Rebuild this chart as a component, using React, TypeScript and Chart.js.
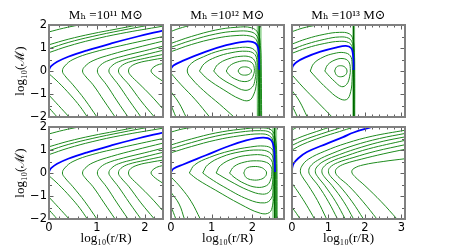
import React, { useEffect, useRef } from "react";
import { Chart, registerables } from "chart.js";

Chart.register(...registerables);

type Pt = [number, number];

// ---------- axis data ----------
const xMaxByCol = [2.38, 2.78, 3.1];
const xTickValuesByCol = [[0, 1, 2], [0, 1, 2], [0, 1, 2, 3]];
const xTickLabelsByCol = [["0", "1", "2"], ["0", "1", "2"], ["0", "1", "2", "3"]];
const yTickValues = [-2, -1, 0, 1, 2];
const yTickLabels = ["−2", "−1", "0", "1", "2"];
const panelTitles = ["Mₕ =10¹¹ M⊙", "Mₕ =10¹² M⊙", "Mₕ =10¹³ M⊙"];
const xAxisTitle = "log₁₀(r/R)";
const yAxisTitle = "log₁₀(ℳ)";

// ---------- panel 1 : 10^11, top ----------
const p1Blue: Pt[] = [[0, 0], [0.01, 0.1], [0.05, 0.22], [0.17, 0.4], [0.4, 0.62], [0.8, 0.9], [1.3, 1.2], [1.85, 1.5], [2.38, 1.76]];
const p1Green: Pt[][] = [
  [[0, 1.7], [0.3, 1.86], [0.62, 2.0]],
  [[0, 1.14], [0.4, 1.38], [0.9, 1.62], [1.4, 1.82], [1.85, 2.0]],
  [[0, 0.97], [0.4, 1.24], [0.9, 1.5], [1.5, 1.76], [2.1, 2.0]],
  [[0, 0.8], [0.4, 1.08], [0.9, 1.36], [1.5, 1.63], [2.38, 1.95]],
  [[1.0, -2], [0.75, -1.25], [0.5, -0.6], [0.33, -0.2], [0.28, 0], [0.33, 0.22], [0.5, 0.5], [0.9, 0.8], [1.5, 1.1], [2.38, 1.5]],
  [[1.38, -2], [1.15, -1.3], [0.92, -0.6], [0.75, -0.2], [0.7, 0], [0.75, 0.2], [0.92, 0.45], [1.3, 0.72], [1.8, 1.0], [2.38, 1.3]],
  [[1.65, -2], [1.42, -1.3], [1.2, -0.6], [1.05, -0.2], [1.01, 0], [1.05, 0.2], [1.2, 0.42], [1.55, 0.65], [2.0, 0.88], [2.38, 1.08]],
  [[1.92, -2], [1.68, -1.3], [1.45, -0.6], [1.3, -0.2], [1.25, 0], [1.3, 0.2], [1.45, 0.4], [1.8, 0.6], [2.38, 0.9]],
  [[2.2, -2], [1.92, -1.3], [1.67, -0.6], [1.5, -0.2], [1.45, 0], [1.5, 0.2], [1.66, 0.38], [2.0, 0.55], [2.38, 0.72]],
  [[2.38, -1.65], [2.12, -1.05], [1.88, -0.55], [1.7, -0.18], [1.66, 0], [1.7, 0.18], [1.86, 0.35], [2.15, 0.48], [2.38, 0.56]],
  [[2.38, -0.45], [2.22, -0.22], [2.15, -0.08], [2.13, 0], [2.15, 0.1], [2.24, 0.24], [2.38, 0.33]],
  [[0, -0.12], [0.2, -0.5], [0.45, -1.05], [0.65, -1.55], [0.8, -2]],
  [[0, -1.05], [0.2, -1.5], [0.42, -2]],
  [[0, -1.6], [0.17, -2]],
];

// ---------- panel 2 : 10^12, top ----------
const p2Sonic = 2.17;
const p2Blue: Pt[] = [[0, 0.1], [0.06, 0.24], [0.3, 0.45], [0.86, 0.84], [1.36, 1.12], [1.77, 1.27], [2.02, 1.26], [2.12, 1.12], [2.16, 0.8], [2.17, 0.05]];
const p2Green: Pt[][] = [
  [[0, 1.72], [0.2, 1.85], [0.5, 2.0]],
  [[0, 1.2], [0.5, 1.5], [1.1, 1.78], [1.6, 1.9], [1.98, 1.88], [2.14, 1.65], [2.2, 1.1], [2.22, 0], [2.23, -2]],
  [[0, 1.03], [0.5, 1.33], [1.1, 1.61], [1.6, 1.73], [1.97, 1.7], [2.12, 1.5], [2.18, 1.0], [2.2, 0], [2.21, -2]],
  [[0, 0.84], [0.5, 1.15], [1.1, 1.42], [1.6, 1.54], [1.95, 1.52], [2.1, 1.35], [2.16, 0.9], [2.18, 0], [2.19, -2]],
  [[1.55, -2], [1.2, -1.45], [0.8, -0.85], [0.52, -0.35], [0.4, 0], [0.5, 0.33], [0.8, 0.62], [1.2, 0.88], [1.6, 1.0], [1.92, 1.02], [2.08, 0.86], [2.14, 0.5], [2.15, -0.5], [2.14, -2]],
  [[0.7, 0], [0.82, 0.32], [1.1, 0.6], [1.5, 0.8], [1.85, 0.86], [2.04, 0.76], [2.11, 0.5], [2.12, 0], [2.1, -0.55], [2.04, -1.0], [1.92, -1.28], [1.7, -1.22], [1.3, -0.82], [0.9, -0.35], [0.7, 0]],
  [[1.05, 0], [1.15, 0.28], [1.4, 0.52], [1.72, 0.64], [1.96, 0.6], [2.07, 0.4], [2.09, 0.05], [2.07, -0.35], [2.0, -0.7], [1.82, -0.84], [1.52, -0.62], [1.2, -0.28], [1.05, 0]],
  [[1.36, 0], [1.44, 0.22], [1.63, 0.39], [1.86, 0.44], [2.0, 0.34], [2.05, 0.1], [2.03, -0.17], [1.96, -0.38], [1.8, -0.46], [1.57, -0.34], [1.42, -0.15], [1.36, 0]],
  [[1.65, 0], [1.7, 0.13], [1.81, 0.18], [1.93, 0.13], [1.98, 0], [1.93, -0.13], [1.81, -0.18], [1.7, -0.13], [1.65, 0]],
  [[0, -0.1], [0.25, -0.6], [0.6, -1.25], [0.95, -2]],
  [[0, -0.9], [0.2, -1.4], [0.37, -2]],
  [[0, -1.48], [0.12, -2]],
];

// ---------- panel 3 : 10^13, top ----------
const p3Sonic = 1.69;
const p3Blue: Pt[] = [[0, 0.04], [0.02, 0.2], [0.12, 0.38], [0.35, 0.58], [0.78, 0.84], [1.23, 1.03], [1.48, 1.09], [1.62, 1.0], [1.67, 0.75], [1.69, 0.3], [1.69, 0.04]];
const p3Green: Pt[][] = [
  [[0, 1.71], [0.3, 1.87], [0.68, 2.0]],
  [[0, 1.17], [0.4, 1.4], [0.9, 1.6], [1.3, 1.68], [1.57, 1.62], [1.67, 1.38], [1.71, 0.8], [1.72, 0], [1.72, -2]],
  [[0, 0.94], [0.4, 1.17], [0.9, 1.38], [1.3, 1.48], [1.56, 1.42], [1.66, 1.2], [1.7, 0.7], [1.71, 0], [1.71, -2]],
  [[0, 0.77], [0.4, 1.0], [0.9, 1.2], [1.3, 1.29], [1.55, 1.24], [1.65, 1.05], [1.69, 0.6], [1.7, 0], [1.7, -2]],
  [[0.5, 0], [0.6, 0.33], [0.85, 0.6], [1.15, 0.76], [1.42, 0.8], [1.6, 0.66], [1.65, 0.3], [1.65, -0.3], [1.61, -0.9], [1.5, -1.24], [1.28, -1.18], [0.95, -0.75], [0.65, -0.27], [0.5, 0]],
  [[0.9, 0], [0.98, 0.27], [1.18, 0.48], [1.4, 0.54], [1.55, 0.42], [1.6, 0.1], [1.58, -0.25], [1.5, -0.58], [1.36, -0.68], [1.16, -0.44], [0.98, -0.15], [0.9, 0]],
  [[1.17, 0], [1.22, 0.17], [1.33, 0.23], [1.45, 0.17], [1.51, 0], [1.46, -0.18], [1.33, -0.25], [1.22, -0.18], [1.17, 0]],
  [[0, -0.17], [0.3, -0.7], [0.7, -1.35], [1.1, -2]],
  [[0, -0.85], [0.2, -1.3], [0.42, -2]],
  [[0, -1.5], [0.15, -2]],
];

// ---------- panel 4 : 10^11, bottom ----------
const p4Blue: Pt[] = p1Blue;
const p4Green: Pt[][] = p1Green;

// ---------- panel 5 : 10^12, bottom ----------
const p5Sonic = 2.55;
const p5Blue: Pt[] = [[0, 0.04], [0.06, 0.18], [0.3, 0.37], [0.86, 0.77], [1.36, 1.13], [1.85, 1.42], [2.26, 1.54], [2.45, 1.45], [2.53, 1.1], [2.55, 0.5], [2.56, 0.04]];
const p5Green: Pt[][] = [
  [[0, 1.78], [0.3, 1.92], [0.62, 2.0]],
  [[0, 1.22], [0.5, 1.48], [1.1, 1.74], [1.7, 1.9], [2.2, 1.96], [2.46, 1.88], [2.56, 1.55], [2.6, 0.8], [2.61, -2]],
  [[0, 1.06], [0.5, 1.32], [1.1, 1.6], [1.7, 1.78], [2.2, 1.84], [2.44, 1.76], [2.54, 1.45], [2.58, 0.8], [2.59, -2]],
  [[0, 0.88], [0.5, 1.15], [1.1, 1.43], [1.7, 1.62], [2.2, 1.7], [2.42, 1.62], [2.52, 1.35], [2.56, 0.8], [2.57, 0], [2.58, -2]],
  [[0.45, 0], [0.58, 0.35], [0.95, 0.68], [1.45, 0.96], [1.95, 1.13], [2.3, 1.17], [2.48, 1.05], [2.54, 0.7], [2.55, 0], [2.54, -0.8], [2.5, -1.4], [2.42, -1.72], [2.2, -1.75], [1.7, -1.35], [1.1, -0.75], [0.65, -0.28], [0.45, 0]],
  [[0.78, 0], [0.9, 0.35], [1.25, 0.7], [1.7, 0.92], [2.15, 1.0], [2.42, 0.9], [2.52, 0.6], [2.53, 0], [2.52, -0.6], [2.47, -1.1], [2.3, -1.3], [1.9, -1.15], [1.3, -0.6], [0.95, -0.22], [0.78, 0]],
  [[1.11, 0], [1.22, 0.33], [1.55, 0.64], [1.95, 0.78], [2.3, 0.76], [2.47, 0.56], [2.51, 0.1], [2.5, -0.4], [2.43, -0.8], [2.25, -0.92], [1.9, -0.75], [1.45, -0.35], [1.11, 0]],
  [[1.44, 0], [1.55, 0.28], [1.8, 0.47], [2.1, 0.53], [2.35, 0.46], [2.46, 0.28], [2.48, 0], [2.45, -0.3], [2.35, -0.55], [2.1, -0.62], [1.8, -0.45], [1.55, -0.18], [1.44, 0]],
  [[1.79, 0], [1.85, 0.2], [2.02, 0.28], [2.22, 0.24], [2.33, 0.1], [2.35, 0], [2.32, -0.15], [2.2, -0.28], [2.0, -0.3], [1.85, -0.2], [1.79, 0]],
  [[0, -0.17], [0.25, -0.65], [0.5, -1.25], [0.72, -2]],
  [[0, -0.84], [0.2, -1.35], [0.33, -2]],
  [[0, -1.45], [0.12, -2]],
];

// ---------- panel 6 : 10^13, bottom ----------
const p6Blue: Pt[] = [[0, 0.12], [0.01, 0.25], [0.05, 0.42], [0.16, 0.62], [0.41, 0.91], [0.96, 1.28], [1.4, 1.56], [1.69, 1.76], [2.19, 2.0]];
const p6Green: Pt[][] = [
  [[0, 1.87], [0.15, 2.0]],
  [[0, 1.4], [0.3, 1.6], [0.8, 1.87], [1.05, 2.0]],
  [[0, 1.2], [0.3, 1.42], [0.8, 1.7], [1.3, 1.95], [1.4, 2.0]],
  [[0, 1.0], [0.3, 1.25], [0.8, 1.55], [1.3, 1.8], [1.7, 2.0]],
  [[0.95, -2], [0.7, -1.2], [0.45, -0.55], [0.28, -0.15], [0.23, 0.05], [0.27, 0.3], [0.45, 0.6], [0.9, 0.95], [1.5, 1.3], [2.2, 1.6], [3.1, 1.86]],
  [[1.25, -2], [1.0, -1.25], [0.72, -0.55], [0.52, -0.15], [0.46, 0.05], [0.5, 0.28], [0.7, 0.55], [1.1, 0.85], [1.7, 1.2], [2.4, 1.5], [3.1, 1.72]],
  [[1.46, -2], [1.2, -1.25], [0.9, -0.55], [0.7, -0.15], [0.64, 0.05], [0.68, 0.26], [0.88, 0.52], [1.3, 0.8], [1.9, 1.12], [2.5, 1.38], [3.1, 1.57]],
  [[1.69, -2], [1.42, -1.25], [1.1, -0.55], [0.88, -0.15], [0.82, 0.05], [0.86, 0.25], [1.05, 0.48], [1.5, 0.75], [2.1, 1.05], [3.1, 1.42]],
  [[1.96, -2], [1.65, -1.25], [1.3, -0.55], [1.06, -0.15], [1.0, 0.05], [1.04, 0.24], [1.25, 0.45], [1.7, 0.68], [2.3, 0.95], [3.1, 1.23]],
  [[2.33, -2], [1.95, -1.25], [1.55, -0.55], [1.26, -0.15], [1.19, 0.05], [1.24, 0.22], [1.45, 0.4], [1.9, 0.6], [2.5, 0.83], [3.1, 1.03]],
  [[2.88, -2], [2.45, -1.25], [2.0, -0.55], [1.72, -0.15], [1.64, 0.05], [1.7, 0.2], [1.95, 0.35], [2.5, 0.5], [3.1, 0.62]],
  [[0, -0.45], [0.2, -0.9], [0.4, -1.4], [0.62, -2]],
  [[0, -1.5], [0.12, -1.75], [0.22, -2]],
];

type PanelDef = { row: number; col: number; blue: Pt[]; green: Pt[][]; sonic: number | null };
const panels: PanelDef[] = [
  { row: 0, col: 0, blue: p1Blue, green: p1Green, sonic: null },
  { row: 0, col: 1, blue: p2Blue, green: p2Green, sonic: p2Sonic },
  { row: 0, col: 2, blue: p3Blue, green: p3Green, sonic: p3Sonic },
  { row: 1, col: 0, blue: p4Blue, green: p4Green, sonic: null },
  { row: 1, col: 1, blue: p5Blue, green: p5Green, sonic: p5Sonic },
  { row: 1, col: 2, blue: p6Blue, green: p6Green, sonic: null },
];

// ---------- layout & style ----------
const COL_L = [49, 171, 292];
const COL_R = [163, 284, 405];
const ROW_T = [25, 127];
const ROW_B = [117, 219];
const PAD = 12;
const GREEN = "#1e8c1e";
const BLUE = "#0000ff";
const SONIC_DARK = "#006400";
const SONIC_BAND = "rgba(120,200,120,0.75)";
const FRAME = "#808080";
const TICK = "#606060";
const SERIF = "'Liberation Serif', 'DejaVu Serif', serif";
const SANS = "'DejaVu Sans', sans-serif";

const framePlugin = {
  id: "frame",
  afterDatasetsDraw(chart: any) {
    const { ctx, chartArea, scales } = chart;
    const { left, right, top, bottom } = chartArea;
    const xs = scales.x;
    const ys = scales.y;
    ctx.save();
    ctx.strokeStyle = TICK;
    ctx.lineWidth = 1;
    ctx.beginPath();
    const nx = Math.floor(xs.max / 0.2 + 1e-6);
    for (let k = 0; k <= nx; k++) {
      const len = k % 5 === 0 ? 4.5 : 2.5;
      const px = Math.round(xs.getPixelForValue(k * 0.2)) + 0.5;
      ctx.moveTo(px, bottom);
      ctx.lineTo(px, bottom - len);
      ctx.moveTo(px, top);
      ctx.lineTo(px, top + len);
    }
    for (let k = 0; k <= 8; k++) {
      const len = k % 2 === 0 ? 4.5 : 3;
      const py = Math.round(ys.getPixelForValue(-2 + k * 0.5)) + 0.5;
      ctx.moveTo(left, py);
      ctx.lineTo(left + len, py);
      ctx.moveTo(right, py);
      ctx.lineTo(right - len, py);
    }
    ctx.stroke();
    ctx.lineWidth = 2;
    ctx.strokeStyle = FRAME;
    ctx.strokeRect(left, top, right - left, bottom - top);
    ctx.restore();
  },
};

function lineDs(pts: Pt[], color: string, width: number, order: number, tension = 0.4) {
  return {
    data: pts.map(([x, y]) => ({ x, y })),
    showLine: true,
    borderColor: color,
    backgroundColor: color,
    borderWidth: width,
    pointRadius: 0,
    tension,
    fill: false,
    order,
  };
}

function Panel({ p }: { p: PanelDef }) {
  const ref = useRef<HTMLCanvasElement | null>(null);
  const { row, col } = p;
  const L = COL_L[col];
  const R = COL_R[col];
  const T = ROW_T[row];
  const B = ROW_B[row];
  const left = col === 0 ? 0 : L - PAD;
  const top = row === 0 ? 0 : T - PAD;
  const right = R + PAD;
  const bottom = row === 1 ? 250 : B + PAD;
  const w = right - left;
  const h = bottom - top;
  const showX = row === 1;
  const showY = col === 0;

  useEffect(() => {
    const datasets: any[] = [];
    if (p.sonic != null) {
      const s: Pt[] = [[p.sonic, -2], [p.sonic, 2]];
      datasets.push(lineDs(s, SONIC_BAND, col === 2 ? 3 : 5, 4, 0));
      datasets.push(lineDs(s, SONIC_DARK, 1.3, 1, 0));
    }
    p.green.forEach((c) => datasets.push(lineDs(c, GREEN, 1, 2)));
    datasets.push(lineDs(p.blue, BLUE, 1.8, 0));

    const chart = new Chart(ref.current as HTMLCanvasElement, {
      type: "scatter",
      data: { datasets },
      options: {
        responsive: false,
        animation: false,
        devicePixelRatio: 1,
        events: [],
        layout: {
          padding: {
            left: showY ? 0 : PAD,
            right: PAD,
            top: row === 0 ? 0 : PAD,
            bottom: showX ? 0 : PAD,
          },
        },
        plugins: {
          legend: { display: false },
          tooltip: { enabled: false },
          title: {
            display: row === 0,
            fullSize: false,
            text: panelTitles[col],
            color: "#000",
            font: { family: SERIF, size: 13, weight: "normal", lineHeight: 1.2 },
            padding: { top: 8, bottom: 25 - 8 - 15.6 },
          },
        },
        scales: {
          x: {
            type: "linear",
            min: 0,
            max: xMaxByCol[col],
            display: showX,
            grid: { display: false, drawTicks: false, tickLength: 0 },
            border: { display: false },
            afterBuildTicks: (s: any) => {
              s.ticks = xTickValuesByCol[col].map((v) => ({ value: v }));
            },
            afterFit: (s: any) => {
              if (showX) s.height = 250 - B;
            },
            ticks: {
              padding: 2.5,
              color: "#000",
              font: { family: SANS, size: 11.5 },
              maxRotation: 0,
              callback: (_v: any, i: number) => xTickLabelsByCol[col][i],
            },
            title: {
              display: true,
              text: xAxisTitle,
              color: "#000",
              font: { family: SERIF, size: 13 },
              padding: { top: 0, bottom: 4 },
            },
          },
          y: {
            type: "linear",
            min: -2,
            max: 2,
            display: showY,
            grid: { display: false, drawTicks: false, tickLength: 0 },
            border: { display: false },
            afterBuildTicks: (s: any) => {
              s.ticks = yTickValues.map((v) => ({ value: v }));
            },
            afterFit: (s: any) => {
              if (showY) s.width = L;
            },
            ticks: {
              padding: 2,
              color: "#000",
              font: { family: SANS, size: 11.5 },
              callback: (_v: any, i: number) => yTickLabels[i],
            },
            title: {
              display: true,
              text: yAxisTitle,
              color: "#000",
              font: { family: SERIF, size: 13 },
              padding: { top: 13, bottom: 0 },
            },
          },
        },
      } as any,
      plugins: [framePlugin],
    });
    return () => chart.destroy();
  }, []);

  return (
    <canvas
      ref={ref}
      width={w}
      height={h}
      style={{ position: "absolute", left, top, width: w, height: h }}
    />
  );
}

export default function App() {
  return (
    <div style={{ position: "absolute", left: 0, top: 0, width: 450, height: 250, background: "#fff", overflow: "hidden" }}>
      {panels.map((p, i) => (
        <Panel key={i} p={p} />
      ))}
    </div>
  );
}
